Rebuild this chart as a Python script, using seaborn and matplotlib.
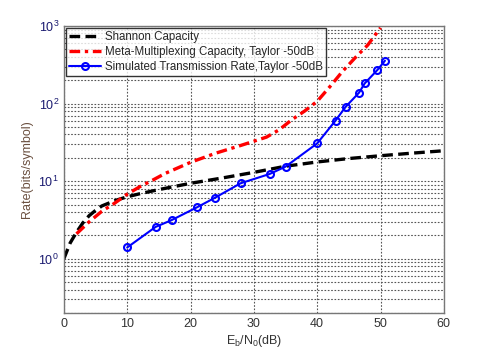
import seaborn as sns
import matplotlib.pyplot as plt
import matplotlib.ticker as mticker
import pandas as pd

# Values
shannon_x = [0, 1, 2, 3, 4, 5, 6, 8, 10, 12, 15, 20, 25, 30, 35, 40, 45, 50, 55, 60]
shannon_y = [1.0, 1.6, 2.2, 2.9, 3.6, 4.2, 4.8, 5.6, 6.3, 6.9, 7.8, 9.4, 11.0,
             13.0, 15.6, 17.7, 19.6, 21.3, 23.0, 24.7]

meta_x = [2, 4, 6, 8, 10, 12, 14, 16, 20, 24, 28, 32, 34, 36, 38, 40, 42, 44, 46, 48, 50]
meta_y = [2.1, 3.0, 4.1, 5.2, 6.8, 8.5, 10.3, 12.6, 17.5, 23.0, 29.0, 37.0,
          46.0, 62.0, 80.0, 107.0, 165.0, 260.0, 390.0, 570.0, 950.0]

sim_x = [10.0, 14.5, 17.0, 21.0, 23.9, 27.9, 32.5, 35.0, 40.0, 42.9, 44.5,
         46.6, 47.5, 49.5, 50.7]
sim_y = [1.40, 2.58, 3.15, 4.6, 6.15, 9.4, 12.4, 15.4, 30.7, 60.5, 91.0,
         138.0, 182.0, 271.0, 357.0]

sns.set_style("white")
plt.rcParams['font.family'] = ['Liberation Sans', 'DejaVu Sans']
plt.rcParams['mathtext.fontset'] = 'custom'
plt.rcParams['mathtext.rm'] = 'Liberation Sans'
plt.rcParams['mathtext.it'] = 'Liberation Sans:italic'

df_shannon = pd.DataFrame({'x': shannon_x, 'y': shannon_y})
df_meta = pd.DataFrame({'x': meta_x, 'y': meta_y})
df_sim = pd.DataFrame({'x': sim_x, 'y': sim_y})

fig = plt.figure(figsize=(4.91, 3.51), dpi=100)
ax = fig.add_axes([0.130, 0.108, 0.774, 0.818])

sns.lineplot(data=df_shannon, x='x', y='y', ax=ax, color='black',
             linestyle=(0, (3.2, 1.6)), linewidth=2.4, label='Shannon Capacity')
sns.lineplot(data=df_meta, x='x', y='y', ax=ax, color='red',
             linestyle=(0, (3.2, 1.4, 1.0, 1.4)), linewidth=2.4,
             label='Meta-Multiplexing Capacity, Taylor -50dB')
sns.lineplot(data=df_sim, x='x', y='y', ax=ax, color='blue', linewidth=1.5,
             marker='o', markersize=5, markerfacecolor='none',
             markeredgecolor='blue', markeredgewidth=1.5,
             label='Simulated Transmission Rate,Taylor -50dB')

ax.set_yscale('log')
ax.set_xlim(0, 60)
ax.set_ylim(0.2, 1000)
ax.set_xticks([0, 10, 20, 30, 40, 50, 60])
ax.yaxis.set_major_locator(mticker.LogLocator(base=10, numticks=10))
ax.yaxis.set_minor_locator(mticker.LogLocator(base=10, subs=range(2, 10), numticks=20))
ax.yaxis.set_minor_formatter(mticker.NullFormatter())

ax.grid(True, which='major', color='#555555', linestyle=(0, (1.5, 1.5)), linewidth=0.8)
ax.grid(True, which='minor', axis='y', color='#555555', linestyle=(0, (1.5, 1.5)), linewidth=0.8)

for s in ax.spines.values():
    s.set_color('#777777')
    s.set_linewidth(1.0)

ax.tick_params(axis='both', which='both', direction='in', labelsize=9)
ax.tick_params(axis='y', which='major', labelcolor='#1a1a70', length=4)
ax.tick_params(axis='y', which='minor', length=2)
ax.tick_params(axis='x', labelcolor='#333333', length=4)

ax.set_xlabel(r'E$_\mathregular{b}$/N$_\mathregular{0}$(dB)', fontsize=9, color='#333333', labelpad=2)
ax.set_ylabel('Rate(bits/symbol)', fontsize=9, color='#6b5040', labelpad=4)

leg = ax.legend(loc='upper left', fontsize=8.3, frameon=True, fancybox=False,
                borderaxespad=0.15, handlelength=2.8, borderpad=0.3,
                labelspacing=0.25, handletextpad=0.3)
leg.get_frame().set_edgecolor('black')
leg.get_frame().set_linewidth(1.0)

fig.savefig('out.png', dpi=100)
